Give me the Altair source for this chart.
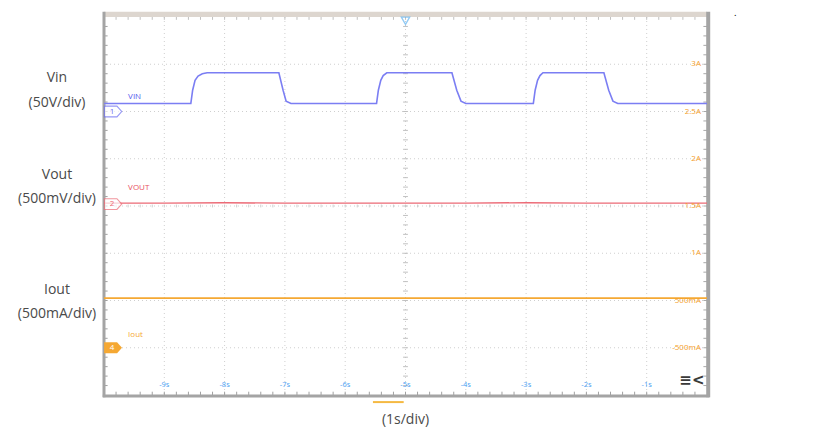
import altair as alt
import pandas as pd

# ---------------- data (time in s, level in divisions) ----------------
vin_t = [0.0, 1.44, 1.47, 1.51, 1.56, 1.63, 1.71, 2.90, 2.97, 3.02, 3.10,
         4.52, 4.55, 4.59, 4.63, 4.69, 5.77, 5.85, 5.92, 6.00,
         7.12, 7.15, 7.19, 7.23, 7.28, 8.29, 8.37, 8.44, 8.52, 10.0]
vin_v = [6.17, 6.17, 6.45, 6.66, 6.75, 6.80, 6.82, 6.82, 6.45, 6.22, 6.17,
         6.17, 6.45, 6.66, 6.76, 6.82, 6.82, 6.45, 6.22, 6.17,
         6.17, 6.45, 6.66, 6.76, 6.82, 6.82, 6.45, 6.22, 6.17, 6.17]
vout_t = [0.0, 1.0, 2.0, 3.0, 4.0, 5.0, 6.0, 7.0, 8.0, 9.0, 10.0]
vout_v = [4.06, 4.06, 4.07, 4.06, 4.06, 4.06, 4.06, 4.07, 4.06, 4.06, 4.06]
iout_t = [0.0, 2.5, 5.0, 7.5, 10.0]
iout_v = [2.05, 2.05, 2.05, 2.05, 2.05]

right_labels = ["3A", "2.5A", "2A", "1.5A", "1A", "500mA", "-500mA"]
right_divs = [7, 6, 5, 4, 3, 2, 1]
time_labels = ["-9s", "-8s", "-7s", "-6s", "-5s", "-4s", "-3s", "-2s", "-1s"]
time_divs = [1, 2, 3, 4, 5, 6, 7, 8, 9]

W, H = 603, 378
X = alt.Scale(domain=[0, 10], nice=False, zero=False)
Y = alt.Scale(domain=[0, 8], nice=False, zero=False)
FONT = "Open Sans"

def xy(df, xf="t", yf="v"):
    return dict(x=alt.X(f"{xf}:Q", scale=X, axis=None),
                y=alt.Y(f"{yf}:Q", scale=Y, axis=None))

# grid
vgrid = alt.Chart(pd.DataFrame({"t": time_divs})).mark_rule(
    color="#cfcfcf", strokeDash=[1, 3], strokeWidth=1
).encode(x=alt.X("t:Q", scale=X, axis=None))
hgrid = alt.Chart(pd.DataFrame({"v": [1, 2, 3, 4, 5, 6, 7]})).mark_rule(
    color="#cfcfcf", strokeDash=[1, 3], strokeWidth=1
).encode(y=alt.Y("v:Q", scale=Y, axis=None))

# minor ticks on borders and centre lines
minor_t = [i / 5 for i in range(1, 50)]
minor_v = [i / 5 for i in range(1, 40)]
bt = pd.DataFrame({"t": minor_t, "y0": 0.0, "y1": 0.07})
bottom_ticks = alt.Chart(bt).mark_rule(color="#a0a0a0").encode(
    x=alt.X("t:Q", scale=X, axis=None), y=alt.Y("y0:Q", scale=Y, axis=None), y2="y1:Q")
tt = pd.DataFrame({"t": minor_t, "y0": 8.0, "y1": 7.94})
top_ticks = alt.Chart(tt).mark_rule(color="#c0c0c0").encode(
    x=alt.X("t:Q", scale=X, axis=None), y=alt.Y("y0:Q", scale=Y, axis=None), y2="y1:Q")
ct = pd.DataFrame({"t": minor_t, "y0": 3.97, "y1": 4.03})
centre_h_ticks = alt.Chart(ct).mark_rule(color="#cccccc").encode(
    x=alt.X("t:Q", scale=X, axis=None), y=alt.Y("y0:Q", scale=Y, axis=None), y2="y1:Q")
lt = pd.DataFrame({"v": minor_v, "x0": 0.0, "x1": 0.06})
left_ticks = alt.Chart(lt).mark_rule(color="#a0a0a0").encode(
    y=alt.Y("v:Q", scale=Y, axis=None), x=alt.X("x0:Q", scale=X, axis=None), x2="x1:Q")
rt = pd.DataFrame({"v": minor_v, "x0": 10.0, "x1": 9.94})
right_ticks = alt.Chart(rt).mark_rule(color="#a8a8a8").encode(
    y=alt.Y("v:Q", scale=Y, axis=None), x=alt.X("x0:Q", scale=X, axis=None), x2="x1:Q")
cv = pd.DataFrame({"v": minor_v, "x0": 4.96, "x1": 5.04})
centre_v_ticks = alt.Chart(cv).mark_rule(color="#c0c0c0").encode(
    y=alt.Y("v:Q", scale=Y, axis=None), x=alt.X("x0:Q", scale=X, axis=None), x2="x1:Q")

# frame
topbar = alt.Chart(pd.DataFrame({"a": [0], "b": [10], "c": [8.0], "d": [8.11]})).mark_rect(
    color="#ddd6cf").encode(x=alt.X("a:Q", scale=X, axis=None), x2="b:Q",
                            y=alt.Y("c:Q", scale=Y, axis=None), y2="d:Q")
frame_l = alt.Chart(pd.DataFrame({"a": [0], "c": [-0.05], "d": [8.11]})).mark_rule(
    color="#a4a4a4", strokeWidth=3).encode(x=alt.X("a:Q", scale=X, axis=None),
                                           y=alt.Y("c:Q", scale=Y, axis=None), y2="d:Q")
frame_r = alt.Chart(pd.DataFrame({"a": [10.02], "c": [-0.05], "d": [8.11]})).mark_rule(
    color="#a4a4a4", strokeWidth=4).encode(x=alt.X("a:Q", scale=X, axis=None),
                                           y=alt.Y("c:Q", scale=Y, axis=None), y2="d:Q")
frame_b = alt.Chart(pd.DataFrame({"a": [-0.02], "b": [10.04], "c": [-0.02]})).mark_rule(
    color="#a4a4a4", strokeWidth=3).encode(x=alt.X("a:Q", scale=X, axis=None), x2="b:Q",
                                           y=alt.Y("c:Q", scale=Y, axis=None))
orange_bar = alt.Chart(pd.DataFrame({"a": [4.46], "b": [4.97], "c": [-0.15]})).mark_rule(
    color="#f5b942", strokeWidth=2).encode(x=alt.X("a:Q", scale=X, axis=None), x2="b:Q",
                                           y=alt.Y("c:Q", scale=Y, axis=None))

# traces
vin = alt.Chart(pd.DataFrame({"t": vin_t, "v": vin_v})).mark_line(
    color="#7b7ef3", strokeWidth=1.6).encode(**xy(None))
vout = alt.Chart(pd.DataFrame({"t": vout_t, "v": vout_v})).mark_line(
    color="#ec6a76", strokeWidth=1.4).encode(**xy(None))
iout = alt.Chart(pd.DataFrame({"t": iout_t, "v": iout_v})).mark_line(
    color="#f5a833", strokeWidth=1.6).encode(**xy(None))

# channel markers
arrow = "M-1,-0.62 L0.45,-0.62 L1,0 L0.45,0.62 L-1,0.62 Z"
mk = pd.DataFrame({"t": [0.15, 0.15], "v": [6.0, 4.04],
                   "n": ["1", "2"], "c": ["#6a6cf2", "#ec6a76"]})
markers = alt.Chart(mk).mark_point(shape=arrow, size=300, filled=False, fill="white",
                                   strokeWidth=1.1).encode(
    **xy(None), stroke=alt.Color("c:N", scale=None))
marker_txt = alt.Chart(mk).mark_text(fontSize=8, font=FONT, dx=-1).encode(
    **xy(None), text="n:N", color=alt.Color("c:N", scale=None))
m4 = pd.DataFrame({"t": [0.15], "v": [1.0], "n": ["4"]})
marker4 = alt.Chart(m4).mark_point(shape=arrow, size=320, filled=True,
                                   color="#f5a833", opacity=1).encode(**xy(None))
marker4_txt = alt.Chart(m4).mark_text(fontSize=8, font=FONT, dx=-1, color="white").encode(
    **xy(None), text="n:N")

# trigger marker
trig = alt.Chart(pd.DataFrame({"t": [5.0], "v": [7.92]})).mark_point(
    shape="triangle-down", size=70, filled=False, stroke="#62b4f2", strokeWidth=1.3
).encode(**xy(None))

# trace labels
tl = pd.DataFrame({"t": [0.40, 0.40, 0.40], "v": [6.31, 4.38, 1.27],
                   "s": ["VIN", "VOUT", "Iout"],
                   "c": ["#5558ee", "#e8505e", "#f5a833"]})
trace_labels = alt.Chart(tl).mark_text(fontSize=8, font=FONT, align="left").encode(
    **xy(None), text="s:N", color=alt.Color("c:N", scale=None))

# right scale labels
rl = pd.DataFrame({"t": [9.9] * len(right_labels), "v": right_divs, "s": right_labels})
right_txt = alt.Chart(rl).mark_text(fontSize=8, font=FONT, align="right",
                                    color="#f5a02a").encode(**xy(None), text="s:N")

# time labels
tlab = pd.DataFrame({"t": time_divs, "v": [0.21] * len(time_divs), "s": time_labels})
time_txt = alt.Chart(tlab).mark_text(fontSize=7.5, font=FONT, color="#4d9ff2").encode(
    **xy(None), text="s:N")

# left annotation text
la = pd.DataFrame({"t": [-0.78] * 6,
                   "v": [6.71, 6.18, 4.66, 4.15, 2.22, 1.71],
                   "s": ["Vin", "(50V/div)", "Vout", "(500mV/div)", "Iout", "(500mA/div)"]})
left_txt = alt.Chart(la).mark_text(fontSize=14, font=FONT, color="#4a4a4a").encode(
    **xy(None), text="s:N")

bottom_txt = alt.Chart(pd.DataFrame({"t": [5.0], "v": [-0.53], "s": ["(1s/div)"]})).mark_text(
    fontSize=14, font=FONT, color="#4a4a4a").encode(**xy(None), text="s:N")

icon = alt.Chart(pd.DataFrame({"t": [9.75], "v": [0.32], "s": ["≡<"]})).mark_text(
    fontSize=15, font="DejaVu Sans", color="#3a3a3a", fontWeight="bold").encode(
    **xy(None), text="s:N")

dot = alt.Chart(pd.DataFrame({"t": [10.47], "v": [8.06], "s": ["."]})).mark_text(
    fontSize=7, font=FONT, color="#000000", fontWeight="bold").encode(**xy(None), text="s:N")

chart = alt.layer(
    vgrid, hgrid, top_ticks, centre_h_ticks, centre_v_ticks,
    bottom_ticks, left_ticks, right_ticks,
    topbar, frame_l, frame_r, frame_b, orange_bar,
    iout, vout, vin,
    markers, marker_txt, marker4, marker4_txt, trig,
    trace_labels, right_txt, time_txt, left_txt, bottom_txt, icon, dot
).properties(
    width=W, height=H,
    autosize=alt.AutoSizeParams(type="none"),
    padding={"left": 96, "top": 9, "right": 100, "bottom": 33},
    background="white",
).configure_view(stroke=None)

chart.save("out.html", embed_options={"renderer": "svg", "actions": False})
